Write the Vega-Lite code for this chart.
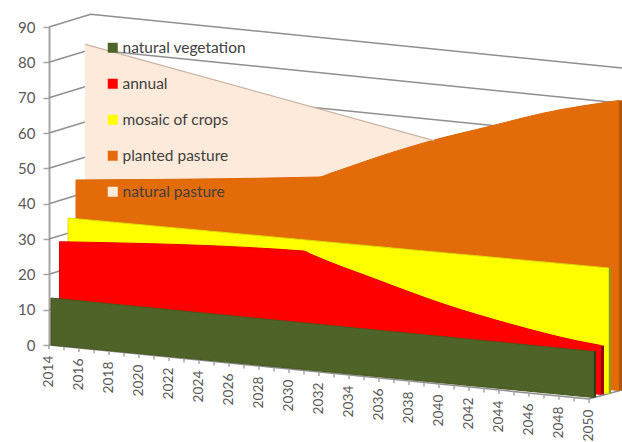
{"$schema":"https://vega.github.io/schema/vega-lite/v6.json","width":573,"height":318,"autosize":"none","padding":{"left":49,"top":27,"right":0,"bottom":97},"background":"white","config":{"view":{"stroke":null},"font":"Lato"},
"datasets":{
"grid":[
{"g":10,"year":2014,"value":10},{"g":10,"year":2016.78,"value":13.6},{"g":10,"year":2052.2,"value":-1.6},
{"g":20,"year":2014,"value":20},{"g":20,"year":2016.78,"value":23.6},{"g":20,"year":2052.2,"value":8.4},
{"g":30,"year":2014,"value":30},{"g":30,"year":2016.78,"value":33.6},{"g":30,"year":2052.2,"value":18.4},
{"g":40,"year":2014,"value":40},{"g":40,"year":2016.78,"value":43.6},{"g":40,"year":2052.2,"value":28.4},
{"g":50,"year":2014,"value":50},{"g":50,"year":2016.78,"value":53.6},{"g":50,"year":2052.2,"value":38.4},
{"g":60,"year":2014,"value":60},{"g":60,"year":2016.78,"value":63.6},{"g":60,"year":2052.2,"value":48.4},
{"g":70,"year":2014,"value":70},{"g":70,"year":2016.78,"value":73.6},{"g":70,"year":2052.2,"value":58.4},
{"g":80,"year":2014,"value":80},{"g":80,"year":2016.78,"value":83.6},{"g":80,"year":2052.2,"value":68.4},
{"g":90,"year":2014,"value":90},{"g":90,"year":2016.78,"value":93.6},{"g":90,"year":2052.2,"value":78.4},
{"g":0,"year":2014,"value":0},{"g":0,"year":2050,"value":-15.28},{"g":0,"year":2052.2,"value":-12.73}
],
"areas":[
{"series":"natural pasture","year":2016.42,"top":85.1,"base":4.25},
{"series":"natural pasture","year":2039.67,"top":57.82,"base":12.7},
{"series":"natural pasture","year":2052,"top":43.9,"base":-9.9},
{"series":"planted pasture","year":2015.8,"top":46.7,"base":2.55},
{"series":"planted pasture","year":2032,"top":47.54,"base":-4.36},
{"series":"planted pasture","year":2032.73,"top":48.53,"base":-4.67},
{"series":"planted pasture","year":2035.93,"top":53.2,"base":-6.03},
{"series":"planted pasture","year":2039.67,"top":58,"base":-7.61},
{"series":"planted pasture","year":2043.47,"top":61.98,"base":-9.23},
{"series":"planted pasture","year":2047,"top":65.66,"base":-10.72},
{"series":"planted pasture","year":2052,"top":69.2,"base":-12.88},
{"series":"mosaic of crops","year":2015.27,"top":35.94,"base":1.7},
{"series":"mosaic of crops","year":2051.33,"top":21.79,"base":-13.73},
{"series":"annual","year":2014.7,"top":29.23,"base":0.57},
{"series":"annual","year":2030.98,"top":26.6,"base":-5.91},
{"series":"annual","year":2031.47,"top":25.67,"base":-6.08},
{"series":"annual","year":2035.91,"top":18.4,"base":-7.87},
{"series":"annual","year":2040.35,"top":11.52,"base":-9.62},
{"series":"annual","year":2044.8,"top":5.86,"base":-11.4},
{"series":"annual","year":2049.25,"top":1.13,"base":-13.16},
{"series":"annual","year":2050.8,"top":-0.14,"base":-14.01},
{"series":"natural vegetation","year":2014.13,"top":13.3,"base":0},
{"series":"natural vegetation","year":2050.33,"top":-1.84,"base":-14.86}
],
"sides":[
{"series":"planted pasture","year":2052,"top":69.2,"base":-12.88},
{"series":"planted pasture","year":2052.2,"top":69.3,"base":-12.73},
{"series":"mosaic of crops","year":2051.33,"top":21.79,"base":-13.73},
{"series":"mosaic of crops","year":2051.47,"top":21.7,"base":-13.58},
{"series":"annual","year":2050.8,"top":-0.14,"base":-14.01},
{"series":"annual","year":2051,"top":-0.14,"base":-14.01},
{"series":"natural vegetation","year":2050.33,"top":-1.84,"base":-14.86},
{"series":"natural vegetation","year":2050.47,"top":-1.7,"base":-14.72}
],
"axis":[
{"year":2014,"base":0,"low":-1.1,"label":"2014"},{"year":2015,"base":-0.42,"low":-1.52},{"year":2016,"base":-0.85,"low":-1.95,"label":"2016"},{"year":2017,"base":-1.27,"low":-2.37},{"year":2018,"base":-1.7,"low":-2.8,"label":"2018"},{"year":2019,"base":-2.12,"low":-3.22},{"year":2020,"base":-2.55,"low":-3.65,"label":"2020"},{"year":2021,"base":-2.97,"low":-4.07},{"year":2022,"base":-3.4,"low":-4.5,"label":"2022"},{"year":2023,"base":-3.82,"low":-4.92},{"year":2024,"base":-4.25,"low":-5.35,"label":"2024"},{"year":2025,"base":-4.67,"low":-5.77},{"year":2026,"base":-5.09,"low":-6.19,"label":"2026"},{"year":2027,"base":-5.52,"low":-6.62},{"year":2028,"base":-5.94,"low":-7.04,"label":"2028"},{"year":2029,"base":-6.37,"low":-7.47},{"year":2030,"base":-6.79,"low":-7.89,"label":"2030"},{"year":2031,"base":-7.22,"low":-8.32},{"year":2032,"base":-7.64,"low":-8.74,"label":"2032"},{"year":2033,"base":-8.07,"low":-9.17},{"year":2034,"base":-8.49,"low":-9.59,"label":"2034"},{"year":2035,"base":-8.91,"low":-10.01},{"year":2036,"base":-9.34,"low":-10.44,"label":"2036"},{"year":2037,"base":-9.76,"low":-10.86},{"year":2038,"base":-10.19,"low":-11.29,"label":"2038"},{"year":2039,"base":-10.61,"low":-11.71},{"year":2040,"base":-11.04,"low":-12.14,"label":"2040"},{"year":2041,"base":-11.46,"low":-12.56},{"year":2042,"base":-11.89,"low":-12.99,"label":"2042"},{"year":2043,"base":-12.31,"low":-13.41},{"year":2044,"base":-12.74,"low":-13.84,"label":"2044"},{"year":2045,"base":-13.16,"low":-14.26},{"year":2046,"base":-13.58,"low":-14.68,"label":"2046"},{"year":2047,"base":-14.01,"low":-15.11},{"year":2048,"base":-14.43,"low":-15.53,"label":"2048"},{"year":2049,"base":-14.86,"low":-15.96},{"year":2050,"base":-15.28,"low":-16.38,"label":"2050"}
]},
"layer":[
{"data":{"name":"grid"},"mark":{"type":"line","stroke":"#8f8f8f","strokeWidth":1.5,"clip":false},
"encoding":{"x":{"field":"year","type":"quantitative","scale":{"domain":[2014,2052.2],"nice":false,"zero":false},"axis":null},
"y":{"field":"value","type":"quantitative","scale":{"domain":[0,90],"nice":false},"title":null,"axis":{"values":[0,10,20,30,40,50,60,70,80,90],"labelOverlap":false,"grid":false,"domainColor":"#a6a6a6","domainWidth":2,"tickColor":"#a6a6a6","tickWidth":1.5,"tickSize":6,"labelPadding":8,"labelFont":"Lato","labelFontSize":15,"labelColor":"#595959","title":null}},
"detail":{"field":"g"}}},
{"data":{"name":"axis"},"mark":{"type":"rule","stroke":"#a6a6a6","strokeWidth":1.5},
"encoding":{"x":{"field":"year","type":"quantitative","scale":{"domain":[2014,2052.2],"nice":false,"zero":false},"axis":null},
"y":{"field":"base","type":"quantitative","scale":{"domain":[0,90],"nice":false},"axis":null},"y2":{"field":"low"}}},
{"data":{"name":"areas"},"mark":{"type":"area","strokeWidth":1,"strokeJoin":"round","interpolate":"monotone"},
"encoding":{"x":{"field":"year","type":"quantitative","scale":{"domain":[2014,2052.2],"nice":false,"zero":false},"axis":null},
"y":{"field":"top","type":"quantitative","scale":{"domain":[0,90],"nice":false},"axis":null},"y2":{"field":"base"},
"fill":{"field":"series","type":"nominal","scale":{"domain":["natural vegetation","annual","mosaic of crops","planted pasture","natural pasture"],"range":["#4f6228","#ff0000","#ffff00","#e36c09","#fdeada"]},
"legend":{"title":null,"orient":"none","legendX":56,"legendY":13,"symbolType":"square","symbolSize":100,"symbolStrokeWidth":0,"symbolOpacity":1,"labelFont":"Lato","labelFontSize":15.5,"labelColor":"#404040","labelOffset":2,"rowPadding":19,"labelLimit":200,"padding":0}},
"stroke":{"field":"series","type":"nominal","scale":{"domain":["natural vegetation","annual","mosaic of crops","planted pasture","natural pasture"],"range":["#47591f","#e60000","#dede00","#dc6808","#fdeada"]},"legend":null}}},
{"data":{"name":"sides"},"mark":{"type":"area"},
"encoding":{"x":{"field":"year","type":"quantitative","scale":{"domain":[2014,2052.2],"nice":false,"zero":false},"axis":null},
"y":{"field":"top","type":"quantitative","scale":{"domain":[0,90],"nice":false},"axis":null},"y2":{"field":"base"},
"fill":{"field":"series","type":"nominal","scale":{"domain":["natural vegetation","annual","mosaic of crops","planted pasture"],"range":["#2f3b18","#990000","#8f9a1a","#b4560a"]},"legend":null}}},
{"data":{"name":"areas"},"transform":[{"filter":"datum.series === 'natural pasture' && datum.year < 2040"}],"mark":{"type":"line","stroke":"#c9b6a6","strokeWidth":1.2},
"encoding":{"x":{"field":"year","type":"quantitative","scale":{"domain":[2014,2052.2],"nice":false,"zero":false},"axis":null},
"y":{"field":"top","type":"quantitative","scale":{"domain":[0,90],"nice":false},"axis":null}}},
{"data":{"name":"axis"},"transform":[{"filter":"isValid(datum.label)"}],"mark":{"type":"text","angle":270,"align":"right","baseline":"middle","yOffset":10.5,"font":"Lato","fontSize":13.8,"fill":"#595959"},
"encoding":{"x":{"field":"year","type":"quantitative","scale":{"domain":[2014,2052.2],"nice":false,"zero":false},"axis":null},
"y":{"field":"base","type":"quantitative","scale":{"domain":[0,90],"nice":false},"axis":null},"text":{"field":"label"}}}
],
"resolve":{"scale":{"fill":"independent","stroke":"independent"},"axis":{"y":"independent"}}}
